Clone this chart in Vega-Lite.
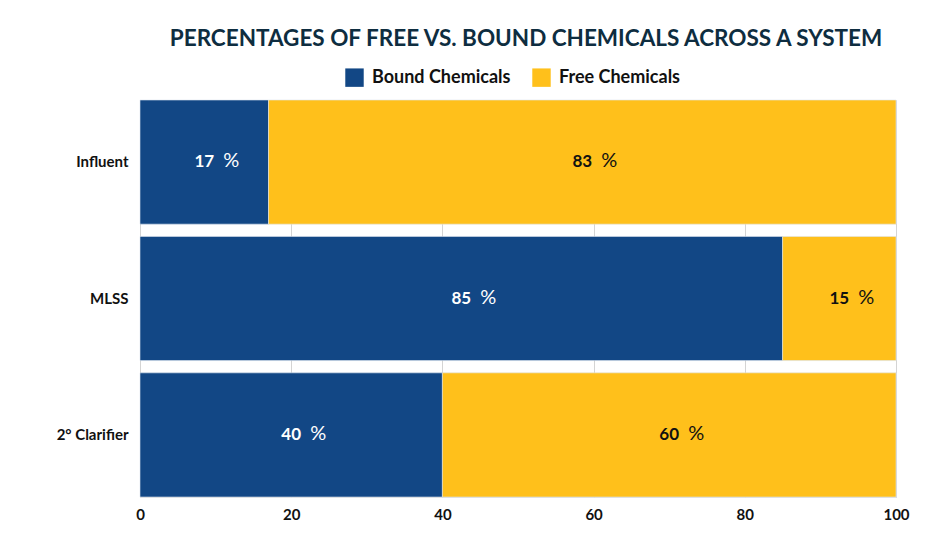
{
  "$schema": "https://vega.github.io/schema/vega-lite/v6.json",
  "autosize": "none",
  "width": 756,
  "height": 397,
  "padding": {"left": 140, "top": 100, "right": 34, "bottom": 49},
  "background": "white",
  "title": {
    "text": "PERCENTAGES OF FREE VS. BOUND CHEMICALS ACROSS A SYSTEM",
    "font": "Lato",
    "fontSize": 22.5,
    "fontWeight": "bold",
    "color": "#0e2d40",
    "anchor": "middle",
    "dx": 8,
    "dy": 5,
    "offset": 0,
    "baseline": "bottom"
  },
  "data": {
    "values": [
      {"stage": "Influent", "type": "Bound Chemicals", "value": 17},
      {"stage": "Influent", "type": "Free Chemicals", "value": 83},
      {"stage": "MLSS", "type": "Bound Chemicals", "value": 85},
      {"stage": "MLSS", "type": "Free Chemicals", "value": 15},
      {"stage": "2° Clarifier", "type": "Bound Chemicals", "value": 40},
      {"stage": "2° Clarifier", "type": "Free Chemicals", "value": 60}
    ]
  },
  "transform": [
    {"calculate": "datum.type === 'Bound Chemicals' ? 0 : 1", "as": "ord"}
  ],
  "encoding": {
    "y": {
      "field": "stage",
      "type": "nominal",
      "sort": null,
      "scale": {"paddingInner": 0.09, "paddingOuter": 0},
      "axis": {
        "title": null,
        "ticks": false,
        "domain": false,
        "labelFont": "Lato",
        "labelFontSize": 15,
        "labelFontWeight": "bold",
        "labelColor": "#111111",
        "labelPadding": 12
      }
    }
  },
  "layer": [
    {
      "mark": {"type": "bar", "stroke": "#dde6f0", "strokeWidth": 0.6},
      "encoding": {
        "x": {
          "field": "value",
          "type": "quantitative",
          "stack": "zero",
          "scale": {"domain": [0, 100], "nice": false},
          "axis": {
            "title": null,
            "values": [0, 20, 40, 60, 80, 100],
            "ticks": false,
            "domain": false,
            "grid": true,
            "gridColor": "#d4d4d4",
            "gridWidth": 1,
            "labelFont": "Lato",
            "labelFontSize": 15,
            "labelFontWeight": "bold",
            "labelColor": "#111111",
            "labelPadding": 10,
            "labelFlush": false
          }
        },
        "color": {
          "field": "type",
          "type": "nominal",
          "scale": {"domain": ["Bound Chemicals", "Free Chemicals"], "range": ["#124785", "#ffc01b"]},
          "legend": {
            "title": null,
            "orient": "none",
            "direction": "horizontal",
            "legendX": 205,
            "legendY": -32,
            "symbolType": "square",
            "symbolSize": 340,
            "symbolStrokeWidth": 0,
            "labelFont": "Lato",
            "labelFontSize": 18,
            "labelFontWeight": "bold",
            "labelColor": "#111111",
            "columnPadding": 21,
            "labelOffset": 8
          }
        },
        "order": {"field": "ord"}
      }
    },
    {
      "mark": {"type": "text", "font": "Lato", "fontSize": 17, "fontWeight": "bold", "align": "center", "baseline": "middle"},
      "encoding": {
        "x": {"field": "value", "type": "quantitative", "stack": "zero", "bandPosition": 0.5},
        "text": {"field": "value", "type": "quantitative"},
        "order": {"field": "ord"},
        "color": {"condition": {"test": "datum.type === 'Bound Chemicals'", "value": "white"}, "value": "#111111"}
      }
    },
    {
      "mark": {"type": "text", "font": "Lato", "fontSize": 20, "fontWeight": "normal", "align": "center", "baseline": "middle", "dx": 27, "dy": -1, "text": "%"},
      "encoding": {
        "x": {"field": "value", "type": "quantitative", "stack": "zero", "bandPosition": 0.5},
        "order": {"field": "ord"},
        "color": {"condition": {"test": "datum.type === 'Bound Chemicals'", "value": "white"}, "value": "#111111"}
      }
    }
  ]
}
